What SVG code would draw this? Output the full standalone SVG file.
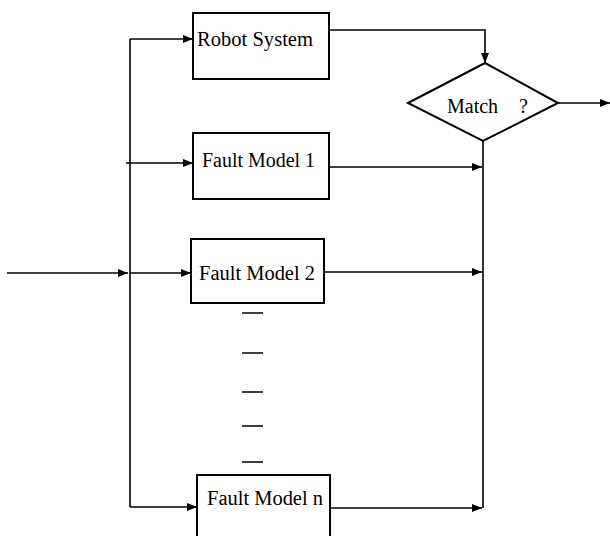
<svg xmlns="http://www.w3.org/2000/svg" width="610" height="536" viewBox="0 0 610 536">
<style>
.box{fill:#fff;stroke:#000;stroke-width:2}
.ln{fill:none;stroke:#000;stroke-width:1.6}
.t{font-family:"Liberation Serif","Times New Roman",serif;font-size:20px;fill:#000}
</style>
<defs>
<marker id="ah" viewBox="0 0 10 8" refX="10" refY="4" markerWidth="10" markerHeight="8" markerUnits="userSpaceOnUse" orient="auto">
<path d="M0,0 L10,4 L0,8 Z" fill="#000"/>
</marker>
</defs>
<rect width="610" height="536" fill="#fff"/>
<g id="connectors">
<path class="ln" d="M130,39 V507"/>
<path class="ln" d="M130,39 H193" marker-end="url(#ah)"/>
<path class="ln" d="M126,163 H193" marker-end="url(#ah)"/>
<path class="ln" d="M7,273 H128" marker-end="url(#ah)"/>
<path class="ln" d="M130,273 H191" marker-end="url(#ah)"/>
<path class="ln" d="M130,507 H197" marker-end="url(#ah)"/>
<path class="ln" d="M329,30 H485 V63" marker-end="url(#ah)"/>
<path class="ln" d="M558,103 H610" marker-end="url(#ah)"/>
<path class="ln" d="M483,141 V508"/>
<path class="ln" d="M329,167 H482" marker-end="url(#ah)"/>
<path class="ln" d="M324,272 H482" marker-end="url(#ah)"/>
<path class="ln" d="M330,508 H482" marker-end="url(#ah)"/>
</g>
<g id="robot-system">
<rect class="box" x="193" y="13" width="136" height="66"/>
<text class="t" x="197" y="46" textLength="116" lengthAdjust="spacingAndGlyphs">Robot System</text>
</g>
<g id="match">
<polygon class="box" points="408,103 485,63 558,103 483,141"/>
<text class="t" x="447" y="113">Match <tspan x="519">?</tspan></text>
</g>
<g id="fault-model-1">
<rect class="box" x="193" y="133" width="136" height="66"/>
<text class="t" x="202" y="167" textLength="113" lengthAdjust="spacingAndGlyphs">Fault Model 1</text>
</g>
<g id="fault-model-2">
<rect class="box" x="191" y="239" width="133" height="64"/>
<text class="t" x="199" y="280" textLength="116" lengthAdjust="spacingAndGlyphs">Fault Model 2</text>
</g>
<g id="dashes">
<path class="ln" d="M242,313 H263 M242,353 H263 M242,392 H263 M242,426 H263 M242,462 H263"/>
</g>
<g id="fault-model-n">
<rect class="box" x="197" y="475" width="133" height="70"/>
<text class="t" x="207" y="505" textLength="116" lengthAdjust="spacingAndGlyphs">Fault Model n</text>
</g>
</svg>
